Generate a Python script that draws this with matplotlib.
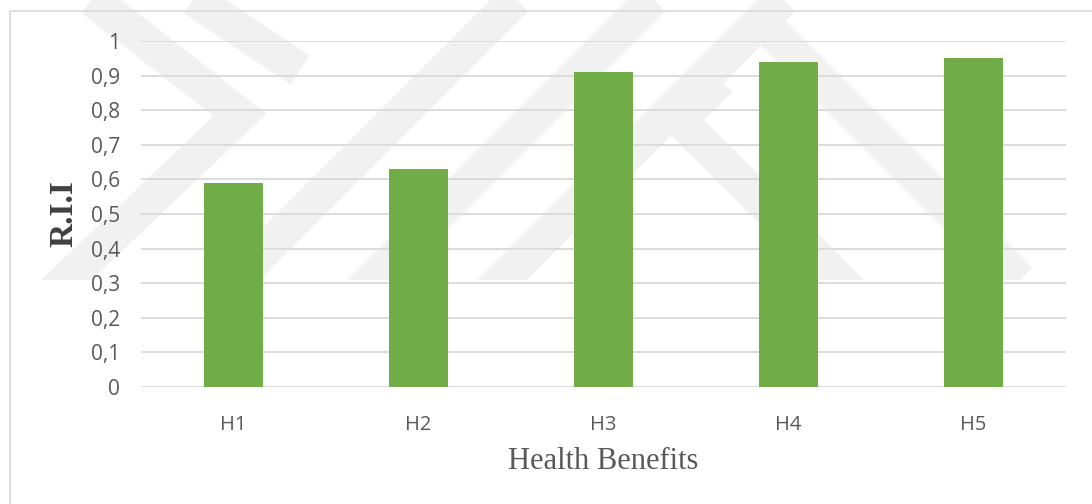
import matplotlib
matplotlib.use('Agg')
import matplotlib.pyplot as plt
from matplotlib.patches import Rectangle

categories = ['H1', 'H2', 'H3', 'H4', 'H5']
rii = [0.59, 0.63, 0.91, 0.94, 0.95]
yticks = [0, 0.1, 0.2, 0.3, 0.4, 0.5, 0.6, 0.7, 0.8, 0.9, 1]
ytick_labels = ['0', '0,1', '0,2', '0,3', '0,4', '0,5', '0,6', '0,7', '0,8', '0,9', '1']

W, H = 1092, 504
fig = plt.figure(figsize=(W / 100, H / 100), dpi=100)
fig.patch.set_facecolor('white')

def px(x, y):
    # pixel position (from top-left) -> figure fraction
    return x / W, 1 - y / H

# faint background watermark, rough bands (decoration only)
band_paths = [
    [(55, -30), (240, 115), (45, 300)],
    [(150, -30), (300, 70)],
    [(215, 300), (525, -10)],
    [(352, 300), (662, -10)],
    [(482, 300), (792, -10)],
    [(720, 80), (680, 120), (860, 300)],
    [(760, 20), (1020, 280)],
]
clip = Rectangle(px(0, 280), 1, 280 / H, transform=fig.transFigure,
                 facecolor='none', edgecolor='none')
fig.add_artist(clip)
for path in band_paths:
    xs = [px(x, y)[0] for x, y in path]
    ys = [px(x, y)[1] for x, y in path]
    ln = plt.Line2D(xs, ys, transform=fig.transFigure, color='#f1f1f1',
                    lw=25, solid_capstyle='butt', solid_joinstyle='miter', zorder=0)
    fig.add_artist(ln)
    ln.set_clip_path(clip)

# outer chart frame
frame = Rectangle(px(10, 560), 1.2, 549 / H, transform=fig.transFigure,
                  facecolor='none', edgecolor='#d9d9d9', lw=1.2, zorder=1)
fig.add_artist(frame)

ax = fig.add_axes([141 / W, 1 - 387 / H, 925 / W, 346 / H])
ax.patch.set_alpha(0)
ax.bar(categories, rii, width=0.32, color='#70ad47', zorder=3)

ax.set_ylim(0, 1)
ax.set_xlim(-0.5, len(categories) - 0.5)
ax.set_yticks(yticks)
ax.set_yticklabels(ytick_labels)
ax.grid(axis='y', color='#d9d9d9', lw=1.3, zorder=0)
ax.set_axisbelow(True)
for s in ax.spines.values():
    s.set_visible(False)
ax.tick_params(axis='both', length=0, colors='#595959')
ax.tick_params(axis='y', pad=15, labelsize=15)
ax.tick_params(axis='x', pad=20, labelsize=14.5)
for lab in ax.get_xticklabels() + ax.get_yticklabels():
    lab.set_fontfamily('Open Sans')

ax.set_ylabel('R.I.I', fontfamily='Liberation Serif', fontweight='bold',
              fontsize=24, color='#404040')
ax.yaxis.set_label_coords(-0.083, 0.5)
ax.set_xlabel('Health Benefits', fontfamily='Liberation Serif',
              fontsize=22, color='#595959')
ax.xaxis.set_label_coords(0.5, -0.214)
ax.xaxis.label.set_va('center')
ax.yaxis.label.set_va('center')

fig.savefig('out.png', dpi=100)
